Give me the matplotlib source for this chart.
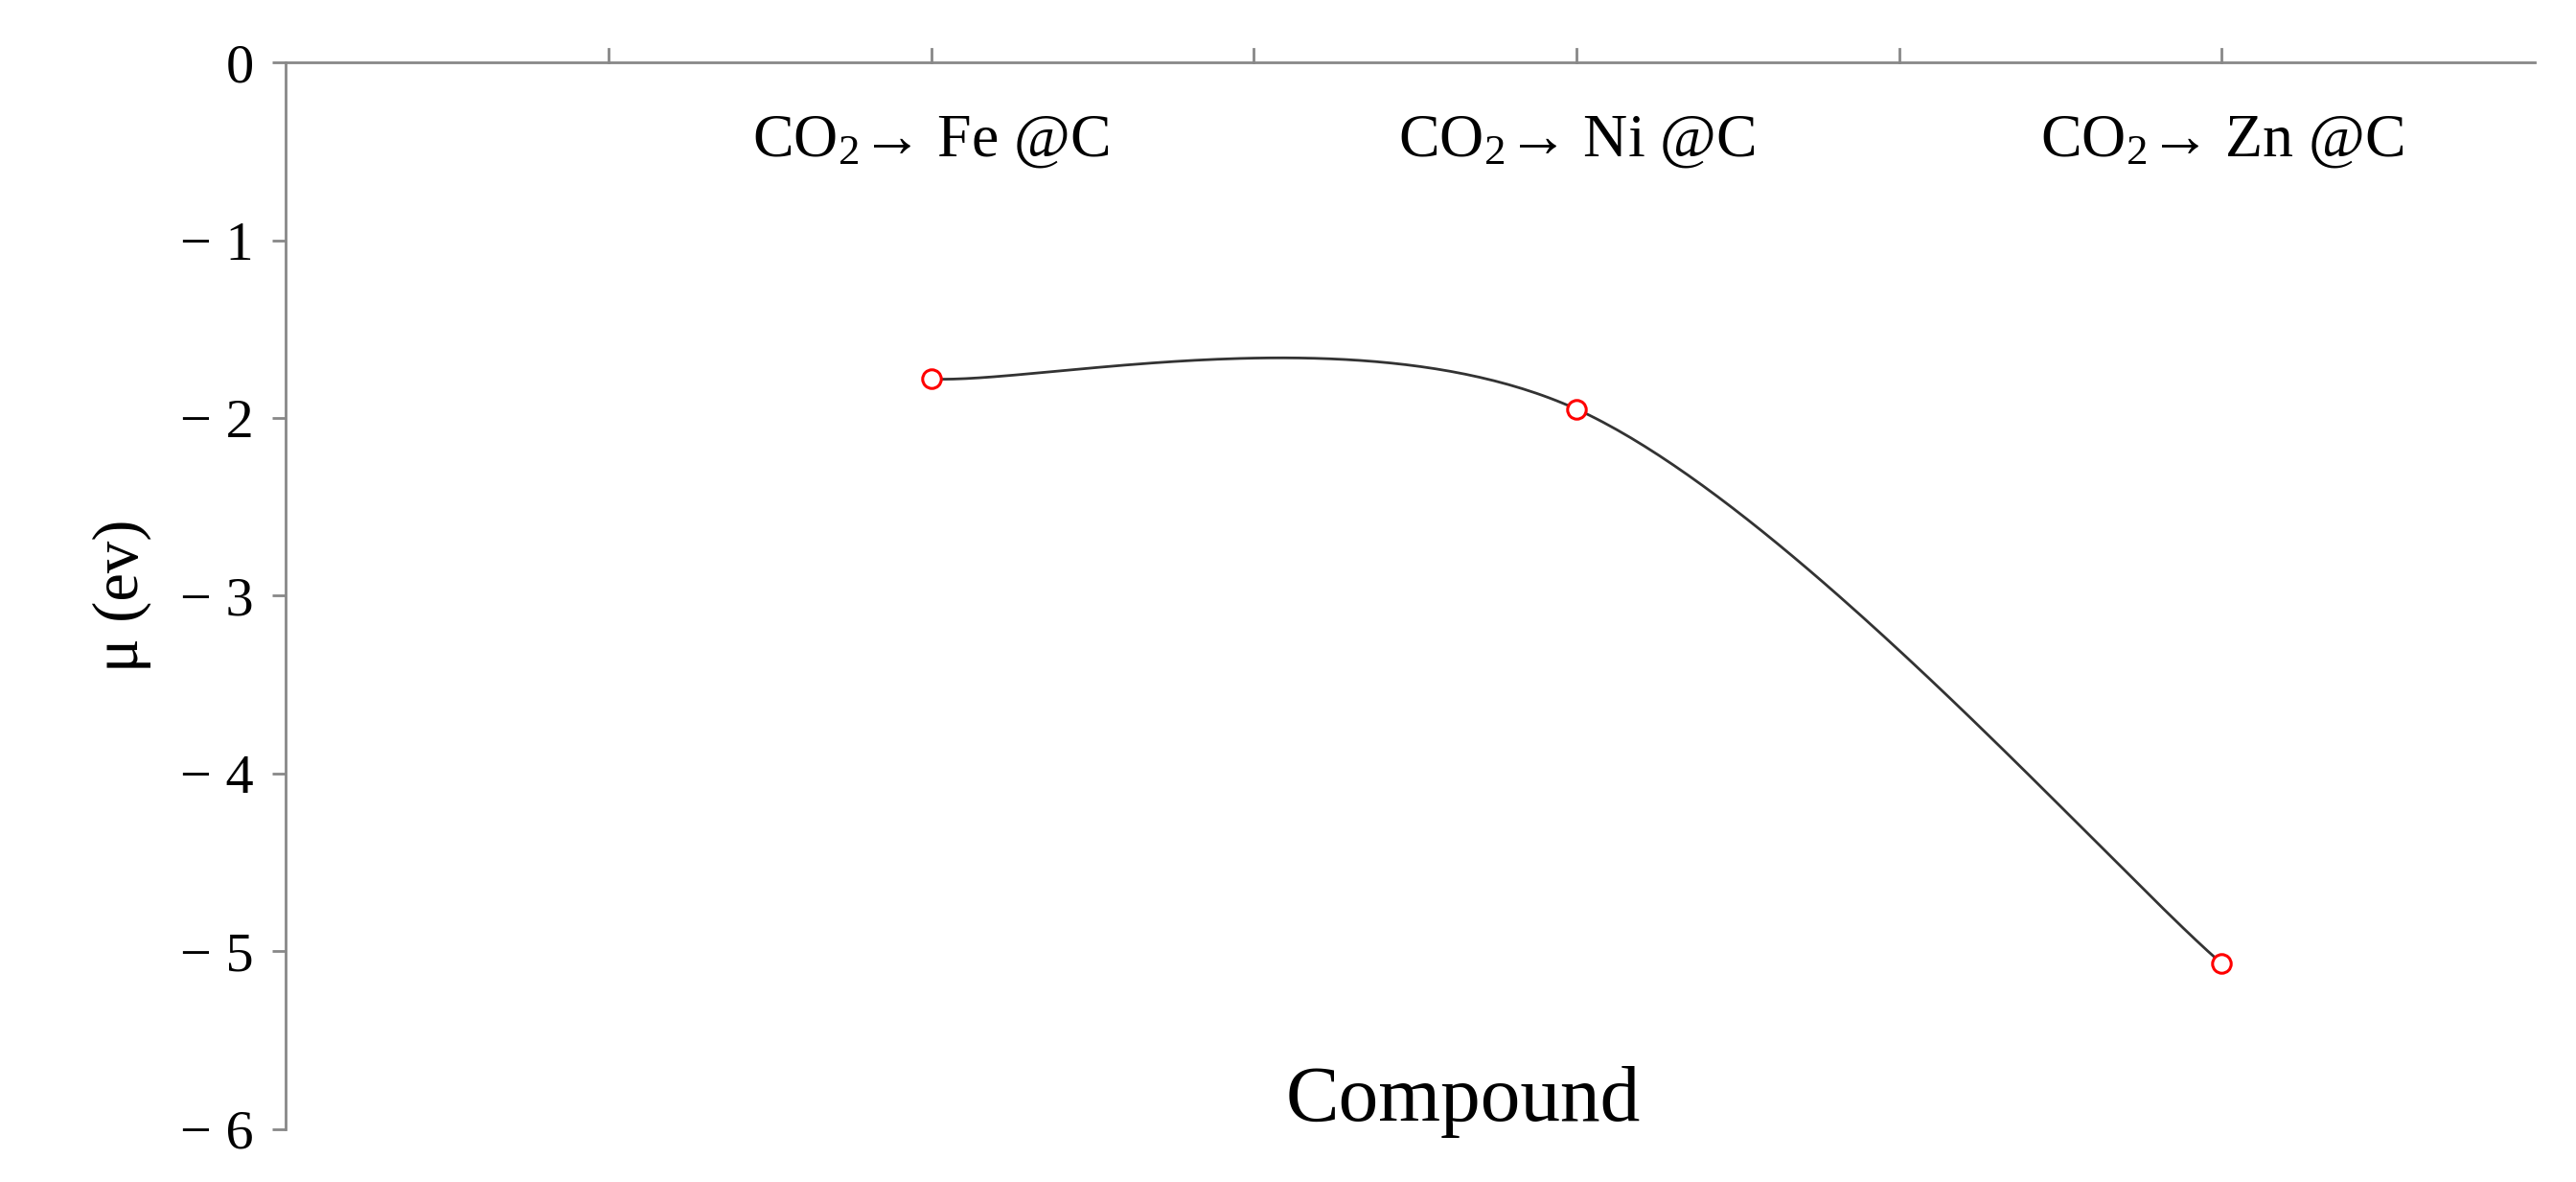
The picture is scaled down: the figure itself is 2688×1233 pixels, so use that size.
import numpy as np
import matplotlib
matplotlib.use("Agg")
import matplotlib.pyplot as plt

categories = ["CO$_2$→ Fe @C", "CO$_2$→ Ni @C", "CO$_2$→ Zn @C"]
x_pos = [2, 4, 6]
mu = [-1.78, -1.95, -5.07]
yticks = [0, -1, -2, -3, -4, -5, -6]
ytick_labels = ["0", "− 1", "− 2", "− 3", "− 4", "− 5", "− 6"]

plt.rcParams['font.family'] = ['Liberation Serif', 'DejaVu Serif']
plt.rcParams['mathtext.fontset'] = 'custom'
plt.rcParams['mathtext.rm'] = 'Liberation Serif'
plt.rcParams['mathtext.it'] = 'Liberation Serif:italic'
fig = plt.figure(figsize=(26.88, 12.33), dpi=100)
ax = fig.add_axes([0.111, 0.045, 0.873, 0.902])

# Excel-style smoothed line (cubic Bezier, tension 1/6)
P = np.column_stack([x_pos, mu]).astype(float)
n = len(P)
xs, ys = [], []
t = np.linspace(0, 1, 100)[:, None]
for i in range(n - 1):
    pm = P[i - 1] if i > 0 else P[i]
    pp = P[i + 2] if i + 2 < n else P[i + 1]
    c1 = P[i] + (P[i + 1] - pm) / 6
    c2 = P[i + 1] - (pp - P[i]) / 6
    B = ((1 - t) ** 3) * P[i] + 3 * ((1 - t) ** 2) * t * c1 + 3 * (1 - t) * t ** 2 * c2 + t ** 3 * P[i + 1]
    xs.extend(B[:, 0]); ys.extend(B[:, 1])
ax.plot(xs, ys, color='#333333', lw=2)
ax.plot(x_pos, mu, 'o', mfc='white', mec='red', ms=14, mew=2.2)

ax.set_ylim(-6, 0)
ax.set_xticks([])
for xv in range(1, 7):
    ax.plot([xv, xv], [0, 0.08], color='#888888', lw=2, clip_on=False)
ax.set_yticks(yticks)
ax.set_yticklabels(ytick_labels, fontsize=42)
ax.tick_params(axis='y', direction='out', length=10, width=2, color='#888888', pad=14)
for s in ['right', 'bottom']:
    ax.spines[s].set_visible(False)
ax.spines['left'].set_color('#888888'); ax.spines['left'].set_linewidth(2)
ax.spines['top'].set_color('#888888'); ax.spines['top'].set_linewidth(2)
ax.set_xlim(0, 6.97)

for xv, lab in zip(x_pos, categories):
    ax.text(xv, -0.6, lab, ha='center', va='bottom', fontsize=46)

ax.set_ylabel("μ (ev)", fontsize=48, labelpad=22)
ax.text(3.65, -5.85, "Compound", ha='center', va='center', fontsize=60)

fig.savefig("out.png", dpi=100)
